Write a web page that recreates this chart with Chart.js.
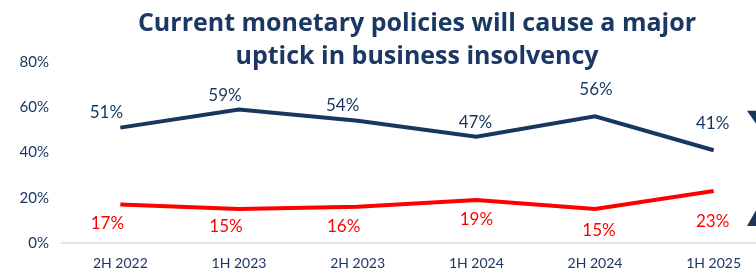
<!DOCTYPE html>
<html><head><meta charset="utf-8">
<script src="https://cdn.jsdelivr.net/npm/chart.js@4/dist/chart.umd.min.js"></script>
<style>html,body{margin:0;padding:0;background:#fff;overflow:hidden;width:756px;height:274px}
#wrap{position:relative;width:773px;height:274px}</style>
</head><body><div id="wrap"><canvas id="c"></canvas></div>
<script>
const categories = ["2H 2022","1H 2023","2H 2023","1H 2024","2H 2024","1H 2025"];
const majorUptick = [51,59,54,47,56,41];
const lowUptick = [17,15,16,19,15,23];
const yTicks = [0,20,40,60,80];
const titleLines = ["Current monetary policies will cause a major","uptick in business insolvency"];
// label offsets (px) relative to each point, as placed in the source
const navyLabelDx = [-14,-14,-15,-1,1,-1];
const navyLabelDy = [-15,-14,-15,-14,-27,-27];
const redLabelDx = [-13,-13,-14,0,4,-1];
const redLabelDy = [19,17,20,20,21,31];

const NAVY = '#17375e';
const TEXT = '#1b3763';
const RED = '#ff0000';
const FONT = "Lato, 'Noto Sans', sans-serif";
const TFONT = "'Open Sans', Lato, sans-serif";

const labelPlugin = {
  id:'labels',
  afterDatasetsDraw(chart){
    const ctx = chart.ctx;
    const offs = [[navyLabelDx,navyLabelDy],[redLabelDx,redLabelDy]];
    chart.data.datasets.forEach((ds,i)=>{
      const meta = chart.getDatasetMeta(i);
      ctx.save();
      ctx.font = "17px " + FONT;
      ctx.fillStyle = ds.borderColor;
      ctx.textAlign='center'; ctx.textBaseline='middle';
      meta.data.forEach((pt,j)=>{
        ctx.fillText(ds.data[j]+'%', pt.x+offs[i][0][j], pt.y+offs[i][1][j]);
      });
      ctx.restore();
    });
  }
};
const trianglePlugin = {
  id:'tri',
  afterDraw(chart){
    const ctx=chart.ctx, a=chart.chartArea, y=chart.scales.y;
    const cx=a.right-15;
    ctx.save();
    ctx.fillStyle=NAVY;
    let t=y.getPixelForValue(58.5), b=y.getPixelForValue(51.5);
    ctx.beginPath(); ctx.moveTo(cx-11,t); ctx.lineTo(cx+11,t); ctx.lineTo(cx,b); ctx.closePath(); ctx.fill();
    t=y.getPixelForValue(16); b=y.getPixelForValue(7.5);
    ctx.beginPath(); ctx.moveTo(cx-11,b); ctx.lineTo(cx+11,b); ctx.lineTo(cx,t); ctx.closePath(); ctx.fill();
    ctx.restore();
  }
};

new Chart(document.getElementById('c'),{
  type:'line',
  data:{labels:categories,datasets:[
    {label:'Major uptick',data:majorUptick,borderColor:NAVY,backgroundColor:NAVY,borderWidth:4,pointRadius:0,tension:0},
    {label:'Low',data:lowUptick,borderColor:RED,backgroundColor:RED,borderWidth:4,pointRadius:0,tension:0}
  ]},
  options:{
    responsive:true,maintainAspectRatio:false,animation:false,
    layout:{padding:{left:0,right:0,top:0,bottom:0}},
    plugins:{
      legend:{display:false},tooltip:{enabled:false},
      title:{display:true,text:titleLines,fullSize:false,color:TEXT,
        font:{family:TFONT,size:25,weight:'bold',lineHeight:'33px'},padding:{top:7,bottom:-11}}
    },
    scales:{
      x:{offset:true,grid:{display:false,drawTicks:false},border:{display:false},
        ticks:{color:TEXT,font:{family:FONT,size:14},padding:12},
        afterFit(s){s.height=31;}},
      y:{min:0,max:80,afterBuildTicks(s){s.ticks=yTicks.map(v=>({value:v}));},
        grid:{drawTicks:false,lineWidth:2,color:c=>c.tick.value===0?'#e3e3dc':'rgba(0,0,0,0)'},
        border:{display:false},
        ticks:{color:TEXT,font:{family:FONT,size:15},padding:12,callback:v=>v+'%'},
        afterFit(s){s.width=61;}}
    }
  },
  plugins:[labelPlugin,trianglePlugin]
});
</script></body></html>
